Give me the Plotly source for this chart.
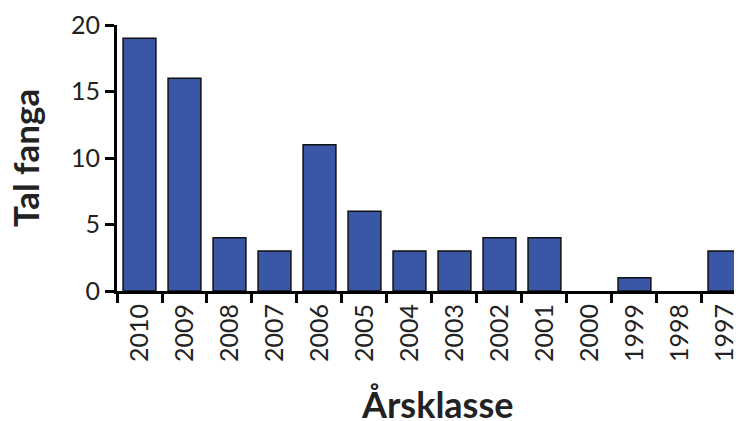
import plotly.graph_objects as go

years = ["2010", "2009", "2008", "2007", "2006", "2005", "2004", "2003", "2002", "2001", "2000", "1999", "1998", "1997"]
counts = [19, 16, 4, 3, 11, 6, 3, 3, 4, 4, 0, 1, 0, 3]

outline_widths = [1.5 if c > 0 else 0 for c in counts]

fig = go.Figure(go.Bar(
    x=years, y=counts,
    marker=dict(color="#3A56A7", line=dict(color="#111111", width=outline_widths)),
))

font_family = "Lato, Open Sans, sans-serif"
# page body has an 8px default margin, so the figure is offset by 8px
fig.update_layout(
    width=734, height=413,
    margin=dict(l=109, r=0, t=17, b=130, autoexpand=False),
    plot_bgcolor="white", paper_bgcolor="white",
    bargap=0.27,
    showlegend=False,
    font=dict(family=font_family, color="#222222"),
)
fig.update_xaxes(
    type="category", automargin=False,
    range=[-0.5, 13.39],
    showline=True, linecolor="black", linewidth=3,
    ticks="outside", tickson="boundaries", ticklen=9, tickwidth=2.5, tickcolor="black",
    tickangle=-90, tickfont=dict(size=25),
    showgrid=False, zeroline=False,
)
fig.update_yaxes(
    automargin=False,
    range=[0, 20], tickvals=[0, 5, 10, 15, 20],
    showline=True, linecolor="black", linewidth=3,
    ticks="outside", ticklen=9, tickwidth=2.5, tickcolor="black",
    tickfont=dict(size=25),
    showgrid=False, zeroline=False,
)
fig.add_annotation(
    text="<b>Årsklasse</b>", xref="paper", yref="paper", x=0.512, y=0,
    xanchor="center", yanchor="middle", yshift=-113, showarrow=False,
    font=dict(size=36, color="#222222"),
)
fig.add_annotation(
    text="<b>Tal fanga</b>", xref="paper", yref="paper", x=0, y=0.5,
    xanchor="center", yanchor="middle", xshift=-92, textangle=-90, showarrow=False,
    font=dict(size=35, color="#222222"),
)

fig.write_html("out.html")
